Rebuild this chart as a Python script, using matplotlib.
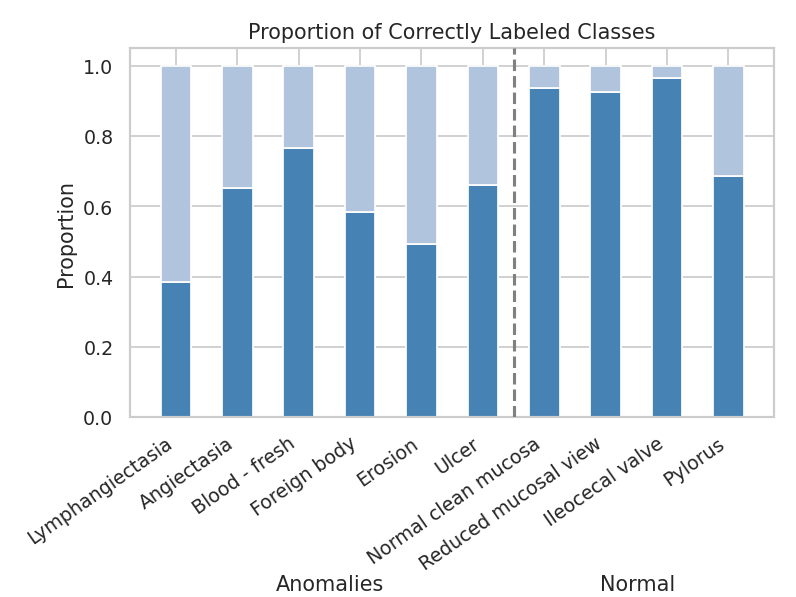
import matplotlib
matplotlib.use("Agg")
import matplotlib.pyplot as plt
import seaborn as sns

classes = ["Lymphangiectasia", "Angiectasia", "Blood - fresh", "Foreign body",
           "Erosion", "Ulcer", "Normal clean mucosa", "Reduced mucosal view",
           "Ileocecal valve", "Pylorus"]
correct = [0.386, 0.652, 0.766, 0.583, 0.492, 0.662, 0.937, 0.925, 0.967, 0.688]
incorrect = [1 - c for c in correct]
n_anomalies = 6

sns.set_theme(style="whitegrid")
plt.rcParams['font.family'] = ['DejaVu Sans']

fig, ax = plt.subplots(figsize=(6.4, 4.8), dpi=124.5)
fig.subplots_adjust(left=0.163, right=0.972, top=0.918, bottom=0.301)

x = list(range(len(classes)))
ax.bar(x, correct, width=0.5, color="steelblue", edgecolor="white", zorder=2)
ax.bar(x, incorrect, width=0.5, bottom=correct, color="lightsteelblue",
       edgecolor="white", zorder=2)

# separator between anomaly and normal classes
ax.axvline(n_anomalies - 0.5, color="gray", linestyle="--", linewidth=1.8, zorder=3)

ax.set_xlim(-0.75, len(classes) - 0.25)
ax.set_ylim(0, 1.05)
ax.set_xticks(x)
ax.set_xticklabels(classes, rotation=35, ha="right")
ax.set_ylabel("Proportion")
ax.set_title("Proportion of Correctly Labeled Classes")

for spine in ax.spines.values():
    spine.set_color("#cccccc")

fig.text(0.414, 0.004, "Anomalies", ha="center", va="bottom", fontsize=12)
fig.text(0.80, 0.004, "Normal", ha="center", va="bottom", fontsize=12)

fig.savefig("out.png", dpi=124.5)
